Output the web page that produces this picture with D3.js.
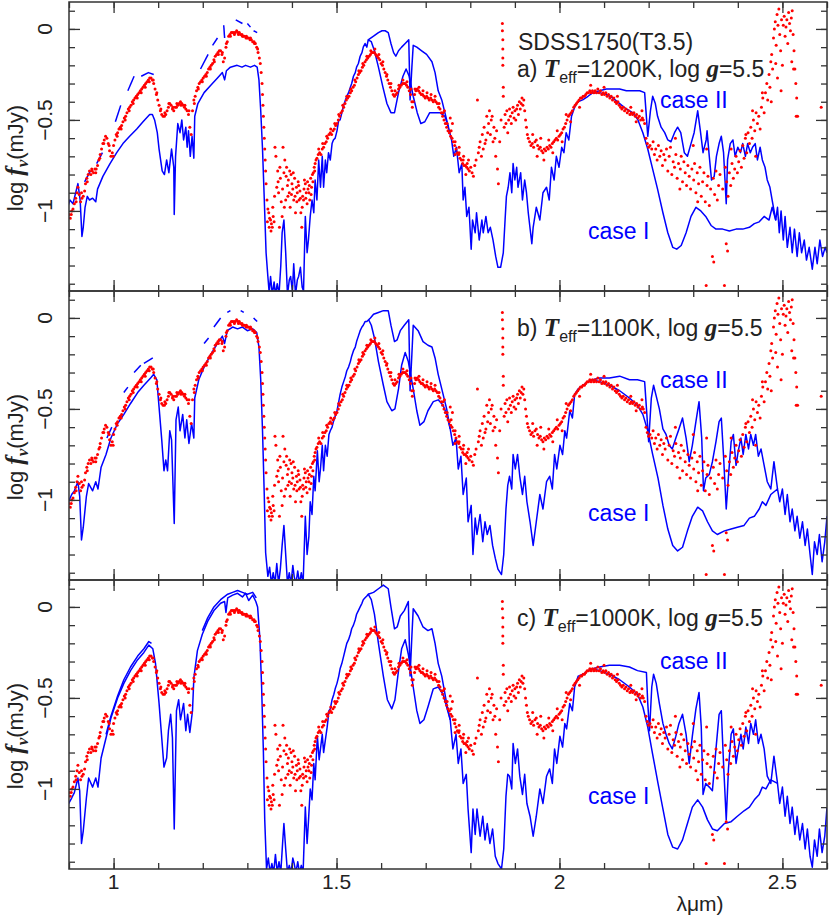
<!DOCTYPE html>
<html>
<head>
<meta charset="utf-8">
<script src="https://cdn.jsdelivr.net/npm/d3@7"></script>
<style>
  body { margin: 0; background: #fff; }
  svg { display: block; font-family: "Liberation Sans", Arial, sans-serif; }
</style>
</head>
<body>
<svg id="chart" width="830" height="920"></svg>
<script>
// ---- tick values ----
const xMajor = [1, 1.5, 2, 2.5];
const xMinor = [0.9, 1.0, 1.1, 1.2, 1.3, 1.4, 1.5, 1.6, 1.7, 1.8, 1.9, 2.0, 2.1, 2.2, 2.3, 2.4, 2.5, 2.6];
const yMajor = [0, -0.5, -1];
const yMinor = [0.1, 0, -0.1, -0.2, -0.3, -0.4, -0.5, -0.6, -0.7, -0.8, -0.9, -1.0, -1.1, -1.2, -1.3, -1.4];

const panelLetters = ["a)", "b)", "c)"];
const panelTeff = ["1200K", "1100K", "1000K"];

// ---- observed spectrum (same in every panel) [lambda um, log f] ----
const obsJ = [[0.897,-1.03],[0.900,-1.02],[0.903,-1.04],[0.906,-1.00],[0.909,-0.99],[0.912,-0.96],[0.915,-0.93],[0.918,-0.90],[0.920,-0.87],[0.923,-0.91],[0.926,-0.95],[0.929,-0.93],[0.932,-0.92],[0.935,-0.89],[0.937,-0.85],[0.940,-0.82],[0.943,-0.80],[0.946,-0.78],[0.949,-0.80],[0.952,-0.78],[0.955,-0.79],[0.958,-0.77],[0.961,-0.77],[0.964,-0.75],[0.967,-0.72],[0.970,-0.69],[0.973,-0.66],[0.976,-0.63],[0.979,-0.61],[0.982,-0.59],[0.985,-0.60],[0.988,-0.63],[0.991,-0.67],[0.994,-0.70],[0.997,-0.68],[1.000,-0.64],[1.003,-0.61],[1.006,-0.58],[1.009,-0.57],[1.012,-0.55],[1.015,-0.54],[1.018,-0.53],[1.021,-0.51],[1.024,-0.49],[1.027,-0.48],[1.030,-0.46],[1.033,-0.44],[1.036,-0.43],[1.039,-0.42],[1.042,-0.40],[1.045,-0.39],[1.048,-0.38],[1.051,-0.37],[1.054,-0.36],[1.057,-0.35],[1.060,-0.34],[1.063,-0.33],[1.066,-0.32],[1.069,-0.31],[1.072,-0.30],[1.075,-0.29],[1.078,-0.28],[1.081,-0.27],[1.084,-0.27],[1.087,-0.28],[1.090,-0.30],[1.093,-0.33],[1.096,-0.36],[1.099,-0.39],[1.102,-0.42],[1.105,-0.45],[1.108,-0.47],[1.111,-0.48],[1.114,-0.48],[1.117,-0.47],[1.120,-0.45],[1.123,-0.43],[1.126,-0.41],[1.129,-0.42],[1.132,-0.44],[1.135,-0.45],[1.138,-0.43],[1.141,-0.43],[1.144,-0.42],[1.147,-0.41],[1.150,-0.40],[1.153,-0.41],[1.156,-0.42],[1.159,-0.43],[1.162,-0.44],[1.165,-0.45],[1.168,-0.47],[1.171,-0.54],[1.174,-0.58],[1.177,-0.45],[1.180,-0.39],[1.183,-0.37],[1.186,-0.34],[1.189,-0.32],[1.192,-0.30],[1.195,-0.29],[1.198,-0.28],[1.201,-0.27],[1.204,-0.26],[1.207,-0.25],[1.210,-0.24],[1.213,-0.22],[1.216,-0.21],[1.219,-0.20],[1.222,-0.19],[1.225,-0.17],[1.228,-0.15],[1.231,-0.14],[1.234,-0.13],[1.237,-0.12],[1.240,-0.12],[1.243,-0.14],[1.246,-0.18],[1.249,-0.16],[1.252,-0.10],[1.255,-0.07],[1.258,-0.04],[1.261,-0.03],[1.264,-0.02],[1.267,-0.02],[1.270,-0.02],[1.273,-0.02],[1.276,-0.01],[1.279,-0.02],[1.282,-0.02],[1.285,-0.03],[1.288,-0.03],[1.291,-0.04],[1.294,-0.04],[1.297,-0.05],[1.300,-0.05],[1.303,-0.05],[1.306,-0.06],[1.309,-0.06],[1.312,-0.07],[1.315,-0.07],[1.318,-0.08],[1.321,-0.10],[1.324,-0.13],[1.327,-0.16],[1.329,-0.19],[1.331,-0.24],[1.333,-0.30],[1.334,-0.36],[1.335,-0.42],[1.336,-0.48],[1.337,-0.54],[1.338,-0.60],[1.339,-0.66],[1.340,-0.72],[1.341,-0.78],[1.342,-0.85]];

// second, slightly offset trace of the dense parts (the band is a few pixels thick)
const obsJb = [[0.905,-1.02],[0.916,-0.95],[0.928,-0.90],[0.941,-0.84],[0.951,-0.77],[0.960,-0.79],[0.969,-0.71],[0.978,-0.63],[0.990,-0.64],[0.999,-0.70],[1.008,-0.59],[1.017,-0.55],[1.026,-0.50],[1.035,-0.45],[1.044,-0.41],[1.053,-0.38],[1.062,-0.35],[1.071,-0.32],[1.080,-0.29],[1.089,-0.28],[1.097,-0.35],[1.106,-0.44],[1.115,-0.46],[1.124,-0.41],[1.133,-0.43],[1.142,-0.41],[1.151,-0.42],[1.160,-0.42],[1.169,-0.45],[1.181,-0.41],[1.190,-0.33],[1.199,-0.29],[1.208,-0.26],[1.217,-0.22],[1.226,-0.18],[1.235,-0.14],[1.244,-0.13],[1.253,-0.08],[1.262,-0.04],[1.271,-0.03],[1.280,-0.03],[1.289,-0.04],[1.298,-0.04],[1.307,-0.05],[1.316,-0.08],[1.323,-0.11]];

const obsGap1 = [[1.344,-0.94],[1.345,-1.06],[1.346,-0.99],[1.348,-1.01],[1.349,-1.09],[1.350,-1.04],[1.352,-1.05],[1.353,-1.11],[1.354,-1.07],[1.356,-1.09],[1.357,-0.98],[1.358,-1.03],[1.360,-1.06],[1.361,-0.92],[1.362,-0.65],[1.364,-0.70],[1.366,-0.87],[1.368,-0.78],[1.369,-0.84],[1.370,-0.90],[1.372,-1.09],[1.373,-0.76],[1.374,-0.82],[1.376,-0.95],[1.378,-1.03],[1.379,-0.88],[1.380,-0.65],[1.382,-0.79],[1.383,-0.98],[1.384,-0.72],[1.386,-0.94],[1.387,-0.81],[1.388,-0.76],[1.390,-0.86],[1.391,-0.92],[1.392,-0.83],[1.394,-0.90],[1.395,-0.78],[1.396,-0.98],[1.398,-0.80],[1.399,-0.91],[1.400,-0.85],[1.402,-0.88],[1.403,-0.79],[1.404,-0.94],[1.406,-0.82],[1.407,-0.92],[1.408,-1.01],[1.410,-0.87],[1.411,-0.95],[1.412,-0.90],[1.414,-0.84],[1.415,-0.86],[1.416,-0.94],[1.418,-0.89],[1.419,-0.93],[1.420,-1.01],[1.422,-1.09],[1.423,-0.98],[1.424,-0.92],[1.426,-0.94],[1.427,-0.88],[1.428,-0.83],[1.430,-0.85],[1.431,-0.93],[1.432,-0.90],[1.434,-0.96],[1.435,-0.84],[1.436,-0.88],[1.438,-0.90],[1.439,-0.86],[1.440,-0.94],[1.442,-0.82],[1.443,-0.91],[1.444,-0.87],[1.446,-0.80],[1.447,-0.84],[1.448,-0.79],[1.450,-0.76],[1.451,-0.78],[1.452,-0.74],[1.454,-0.72]];

const obsH = [[1.456,-0.71],[1.459,-0.69],[1.462,-0.68],[1.465,-0.69],[1.468,-0.66],[1.471,-0.65],[1.474,-0.63],[1.477,-0.62],[1.480,-0.60],[1.483,-0.58],[1.486,-0.57],[1.489,-0.58],[1.492,-0.56],[1.495,-0.55],[1.498,-0.53],[1.501,-0.52],[1.504,-0.50],[1.507,-0.48],[1.510,-0.46],[1.513,-0.45],[1.516,-0.43],[1.519,-0.41],[1.522,-0.39],[1.525,-0.38],[1.528,-0.37],[1.531,-0.35],[1.534,-0.34],[1.537,-0.32],[1.540,-0.31],[1.543,-0.29],[1.546,-0.27],[1.549,-0.25],[1.552,-0.24],[1.555,-0.23],[1.558,-0.21],[1.561,-0.20],[1.564,-0.18],[1.567,-0.17],[1.570,-0.16],[1.573,-0.15],[1.576,-0.14],[1.579,-0.13],[1.582,-0.13],[1.585,-0.13],[1.588,-0.14],[1.591,-0.15],[1.594,-0.16],[1.597,-0.17],[1.600,-0.19],[1.603,-0.20],[1.606,-0.22],[1.609,-0.24],[1.612,-0.26],[1.615,-0.28],[1.618,-0.30],[1.621,-0.32],[1.624,-0.34],[1.627,-0.36],[1.630,-0.37],[1.633,-0.36],[1.636,-0.35],[1.639,-0.33],[1.642,-0.32],[1.645,-0.31],[1.648,-0.30],[1.651,-0.30],[1.654,-0.30],[1.657,-0.31],[1.660,-0.32],[1.663,-0.34],[1.666,-0.36],[1.669,-0.40],[1.670,-0.43],[1.672,-0.40],[1.675,-0.36],[1.678,-0.34],[1.681,-0.33],[1.684,-0.34],[1.687,-0.35],[1.690,-0.36],[1.693,-0.36],[1.696,-0.37],[1.699,-0.38],[1.702,-0.37],[1.705,-0.38],[1.708,-0.39],[1.711,-0.38],[1.714,-0.39],[1.717,-0.40],[1.720,-0.39],[1.723,-0.40],[1.726,-0.41],[1.729,-0.43],[1.732,-0.44],[1.735,-0.46],[1.738,-0.48],[1.741,-0.50],[1.742,-0.45],[1.744,-0.52],[1.747,-0.54],[1.750,-0.56],[1.753,-0.57],[1.755,-0.49],[1.756,-0.59],[1.759,-0.60],[1.760,-0.52],[1.762,-0.62],[1.765,-0.64],[1.766,-0.69],[1.768,-0.66],[1.771,-0.68],[1.774,-0.69],[1.775,-0.65],[1.777,-0.71],[1.780,-0.72],[1.783,-0.74],[1.785,-0.70],[1.786,-0.75],[1.789,-0.75],[1.790,-0.80],[1.792,-0.76],[1.795,-0.77],[1.796,-0.72],[1.798,-0.78],[1.801,-0.76],[1.804,-0.79],[1.807,-0.81]];

const obsHb = [[1.460,-0.66],[1.469,-0.63],[1.478,-0.59],[1.487,-0.55],[1.496,-0.52],[1.505,-0.47],[1.514,-0.42],[1.523,-0.37],[1.532,-0.33],[1.541,-0.28],[1.550,-0.23],[1.559,-0.19],[1.568,-0.15],[1.577,-0.12],[1.586,-0.11],[1.595,-0.14],[1.604,-0.18],[1.613,-0.25],[1.622,-0.30],[1.631,-0.34],[1.640,-0.31],[1.649,-0.28],[1.658,-0.29],[1.667,-0.33],[1.676,-0.33],[1.685,-0.32],[1.694,-0.34],[1.703,-0.35],[1.712,-0.36],[1.721,-0.37],[1.730,-0.41],[1.739,-0.46],[1.748,-0.52],[1.757,-0.56],[1.766,-0.62],[1.775,-0.68],[1.784,-0.72],[1.793,-0.74]];

const obsGap2 = [[1.810,-0.75],[1.813,-0.72],[1.816,-0.39],[1.818,-0.68],[1.820,-0.65],[1.822,-0.62],[1.825,-0.70],[1.827,-0.58],[1.829,-0.66],[1.831,-0.54],[1.833,-0.63],[1.835,-0.61],[1.837,-0.48],[1.839,-0.57],[1.841,-0.52],[1.843,-0.45],[1.845,-0.58],[1.847,-0.50],[1.849,-0.48],[1.851,-0.62],[1.853,-0.54],[1.855,-0.60],[1.857,-0.70],[1.859,-0.56],[1.861,-0.77],[1.863,-0.85],[1.866,-0.62],[1.869,-0.50],[1.872,0.03],[1.872,-0.01],[1.873,-0.06],[1.873,-0.11],[1.873,-0.16],[1.873,-0.20],[1.874,-0.32],[1.874,-0.37],[1.876,-0.54],[1.878,-0.47],[1.880,-0.52],[1.882,-0.45],[1.884,-0.57],[1.886,-0.50],[1.888,-0.44],[1.890,-0.48],[1.892,-0.52],[1.894,-0.46],[1.896,-0.43],[1.898,-0.49],[1.900,-0.45],[1.902,-0.50],[1.904,-0.44],[1.906,-0.42],[1.908,-0.47],[1.910,-0.40],[1.912,-0.44],[1.914,-0.41],[1.916,-0.38],[1.918,-0.42],[1.920,-0.39],[1.922,-0.45],[1.924,-0.50],[1.926,-0.54],[1.928,-0.58]];

const obsK = [[1.930,-0.60],[1.933,-0.62],[1.936,-0.64],[1.939,-0.63],[1.940,-0.58],[1.942,-0.65],[1.945,-0.62],[1.948,-0.61],[1.950,-0.70],[1.951,-0.64],[1.954,-0.66],[1.957,-0.65],[1.958,-0.60],[1.960,-0.67],[1.963,-0.68],[1.965,-0.72],[1.966,-0.66],[1.969,-0.67],[1.972,-0.65],[1.975,-0.66],[1.976,-0.61],[1.978,-0.64],[1.981,-0.65],[1.984,-0.63],[1.985,-0.68],[1.987,-0.62],[1.990,-0.61],[1.993,-0.60],[1.995,-0.56],[1.996,-0.61],[1.999,-0.59],[2.002,-0.58],[2.005,-0.57],[2.006,-0.62],[2.008,-0.55],[2.011,-0.54],[2.014,-0.52],[2.015,-0.47],[2.017,-0.50],[2.020,-0.48],[2.023,-0.47],[2.025,-0.51],[2.026,-0.46],[2.029,-0.45],[2.032,-0.43],[2.035,-0.42],[2.038,-0.41],[2.041,-0.40],[2.044,-0.39],[2.045,-0.43],[2.047,-0.38],[2.050,-0.38],[2.053,-0.37],[2.056,-0.37],[2.059,-0.36],[2.062,-0.35],[2.065,-0.35],[2.068,-0.34],[2.070,-0.31],[2.071,-0.35],[2.074,-0.34],[2.077,-0.35],[2.080,-0.34],[2.083,-0.35],[2.086,-0.33],[2.089,-0.35],[2.092,-0.34],[2.095,-0.36],[2.098,-0.35],[2.100,-0.32],[2.101,-0.36],[2.104,-0.35],[2.107,-0.37],[2.110,-0.36],[2.113,-0.38],[2.116,-0.37],[2.119,-0.39],[2.122,-0.38],[2.125,-0.40],[2.128,-0.41],[2.130,-0.37],[2.131,-0.40],[2.134,-0.42],[2.137,-0.43],[2.140,-0.44],[2.143,-0.43],[2.146,-0.45],[2.149,-0.44],[2.152,-0.46],[2.155,-0.45],[2.158,-0.47],[2.160,-0.43],[2.161,-0.46],[2.164,-0.47],[2.167,-0.46],[2.170,-0.48],[2.172,-0.51],[2.173,-0.47],[2.176,-0.49],[2.179,-0.48],[2.182,-0.50],[2.185,-0.45],[2.186,-0.49],[2.188,-0.50],[2.191,-0.52],[2.194,-0.60],[2.197,-0.63],[2.200,-0.65],[2.203,-0.64]];

const obsKtail = [[2.207,-0.66],[2.210,-0.62],[2.213,-0.69],[2.216,-0.66],[2.219,-0.72],[2.222,-0.64],[2.225,-0.70],[2.228,-0.67],[2.231,-0.75],[2.234,-0.69],[2.237,-0.72],[2.240,-0.66],[2.243,-0.78],[2.246,-0.70],[2.249,-0.65],[2.252,-0.80],[2.255,-0.73],[2.258,-0.76],[2.260,-0.60],[2.261,-0.69],[2.264,-0.82],[2.267,-0.74],[2.270,-0.88],[2.271,-0.77],[2.273,-0.70],[2.276,-0.84],[2.279,-0.73],[2.282,-0.79],[2.285,-0.86],[2.288,-0.75],[2.291,-0.81],[2.294,-0.88],[2.297,-0.77],[2.300,-0.64],[2.301,-0.83],[2.303,-0.74],[2.306,-0.90],[2.309,-0.79],[2.310,-0.95],[2.312,-0.85],[2.315,-0.76],[2.318,-0.92],[2.321,-0.84],[2.324,-0.79],[2.327,-0.95],[2.329,-1.41],[2.330,-0.66],[2.331,-0.86],[2.333,-0.81],[2.336,-0.97],[2.339,-0.88],[2.343,-1.25],[2.345,-0.82],[2.346,-1.28],[2.348,-0.91],[2.351,-0.78],[2.354,-0.94],[2.357,-0.86],[2.360,-0.80],[2.366,-0.88],[2.370,-1.41],[2.372,-0.76],[2.374,-1.18],[2.375,-0.84],[2.377,-1.22],[2.378,-0.92],[2.381,-0.79],[2.384,-0.86],[2.385,-0.66],[2.387,-0.74],[2.390,-0.82],[2.393,-0.77],[2.396,-0.70],[2.399,-0.79],[2.402,-0.73],[2.405,-0.67],[2.408,-0.76],[2.411,-0.64],[2.414,-0.71],[2.417,-0.60],[2.418,-0.58],[2.420,-0.68],[2.423,-0.57],[2.426,-0.63],[2.429,-0.54],[2.432,-0.60],[2.433,-0.45],[2.435,-0.50],[2.438,-0.56],[2.440,-0.70],[2.441,-0.46],[2.444,-0.52]];

const obsTop = [[2.447,-0.48],[2.450,-0.55],[2.453,-0.43],[2.455,-0.35],[2.456,-0.38],[2.459,-0.46],[2.462,-0.35],[2.465,-0.30],[2.467,-0.39],[2.470,-0.25],[2.472,-0.32],[2.474,-0.18],[2.475,-0.40],[2.476,-0.14],[2.478,-0.22],[2.480,-0.05],[2.482,0.00],[2.484,0.04],[2.485,-0.19],[2.486,-0.09],[2.488,0.08],[2.489,-0.27],[2.490,0.02],[2.492,0.11],[2.494,-0.03],[2.496,-0.12],[2.497,-0.34],[2.498,0.05],[2.500,-0.20],[2.502,0.02],[2.504,0.07],[2.506,-0.04],[2.508,0.01],[2.510,0.05],[2.512,-0.08],[2.514,0.09],[2.516,0.03],[2.518,-0.01],[2.520,0.06],[2.521,-0.18],[2.522,0.10],[2.524,-0.03],[2.525,-0.22],[2.526,-0.12],[2.528,-0.22],[2.530,-0.30],[2.531,-0.48],[2.532,-0.38],[2.534,-0.48],[2.587,-0.43]];

// ---- model spectra, panel a (Teff=1200K) ----
const aLeft = [[0.897,-0.98],[0.902,-0.94],[0.909,-0.96],[0.918,-0.87],[0.920,-0.85],[0.925,-0.94],[0.929,-1.14],[0.932,-1.09],[0.936,-0.98],[0.941,-0.92],[0.946,-0.94],[0.953,-0.93],[0.960,-0.95],[0.964,-0.88],[0.976,-0.81],[0.992,-0.74],[1.007,-0.68],[1.021,-0.63],[1.036,-0.59],[1.052,-0.55],[1.066,-0.51],[1.081,-0.47],[1.087,-0.47],[1.092,-0.50],[1.098,-0.57],[1.102,-0.66],[1.109,-0.78],[1.114,-0.80],[1.119,-0.72],[1.124,-0.79],[1.130,-0.66],[1.135,-0.76],[1.136,-1.02],[1.139,-0.70],[1.144,-0.52],[1.149,-0.57],[1.153,-0.50],[1.157,-0.61],[1.162,-0.54],[1.165,-0.65],[1.168,-0.56],[1.172,-0.70],[1.176,-0.59],[1.180,-0.71],[1.182,-0.48],[1.189,-0.41],[1.203,-0.35],[1.218,-0.31],[1.233,-0.27],[1.244,-0.24],[1.249,-0.28],[1.253,-0.23],[1.262,-0.21],[1.277,-0.20],[1.288,-0.21],[1.296,-0.20],[1.307,-0.21],[1.316,-0.20],[1.322,-0.21],[1.326,-0.28],[1.330,-0.45],[1.334,-0.66],[1.338,-0.94],[1.342,-1.23],[1.346,-1.36]];
const aUpper = [
  [[0.935,-0.84],[0.948,-0.78]],
  [[0.962,-0.74],[0.975,-0.68]],
  [[1.004,-0.51],[1.016,-0.42]],
  [[1.032,-0.34],[1.046,-0.26]],
  [[1.062,-0.26],[1.078,-0.24],[1.090,-0.25]],
  [[1.195,-0.22],[1.212,-0.14]],
  [[1.222,-0.09],[1.233,-0.05]],
  [[1.247,0.02],[1.249,-0.05]],
  [[1.274,0.05],[1.289,0.03]],
  [[1.300,0.03],[1.307,0.01]],
  [[1.314,-0.01],[1.322,-0.02]]
];
const aMid = [[1.349,-1.45],[1.352,-1.36],[1.356,-1.46],[1.360,-1.39],[1.363,-1.46],[1.367,-1.40],[1.371,-1.46],[1.375,-1.30],[1.378,-1.12],[1.382,-1.05],[1.386,-1.23],[1.390,-1.46],[1.394,-1.38],[1.397,-1.36],[1.401,-1.44],[1.404,-1.29],[1.408,-1.46],[1.412,-1.38],[1.415,-1.36],[1.419,-1.31],[1.423,-1.42],[1.426,-1.44],[1.430,-1.03],[1.434,-1.23],[1.437,-1.16],[1.441,-1.03],[1.445,-0.94],[1.449,-1.01],[1.452,-0.83],[1.456,-0.94],[1.460,-0.72],[1.464,-0.87],[1.468,-0.70],[1.471,-0.87],[1.475,-0.72],[1.478,-0.79],[1.482,-0.68],[1.486,-0.72],[1.490,-0.63],[1.493,-0.61],[1.497,-0.60],[1.501,-0.56],[1.505,-0.50],[1.508,-0.50],[1.512,-0.46],[1.516,-0.42],[1.520,-0.39],[1.523,-0.37],[1.527,-0.35],[1.531,-0.32],[1.534,-0.30],[1.538,-0.26],[1.542,-0.24],[1.545,-0.21],[1.549,-0.19],[1.553,-0.15],[1.557,-0.13],[1.560,-0.10],[1.564,-0.08],[1.568,-0.10],[1.571,-0.06]];
const aHI = [[1.578,-0.07],[1.585,-0.12],[1.594,-0.21],[1.604,-0.32],[1.613,-0.41],[1.622,-0.46],[1.630,-0.46],[1.639,-0.35],[1.649,-0.26],[1.656,-0.22],[1.663,-0.26],[1.672,-0.37],[1.681,-0.46],[1.689,-0.52],[1.698,-0.51],[1.709,-0.46],[1.721,-0.46],[1.732,-0.46],[1.743,-0.48]];
const aHII = [[1.583,-0.04],[1.594,-0.02],[1.602,-0.01],[1.609,-0.01],[1.616,-0.02],[1.622,-0.08],[1.628,-0.13],[1.633,-0.15],[1.639,-0.12],[1.646,-0.10],[1.654,-0.08],[1.662,-0.06],[1.665,-0.39],[1.669,-0.21],[1.672,-0.09],[1.680,-0.10],[1.691,-0.12],[1.702,-0.14],[1.714,-0.18],[1.721,-0.24],[1.728,-0.34],[1.736,-0.39],[1.743,-0.46]];
const aMid2 = [[1.751,-0.54],[1.758,-0.61],[1.763,-0.70],[1.769,-0.65],[1.775,-0.79],[1.781,-0.74],[1.784,-0.94],[1.788,-0.87],[1.792,-1.03],[1.797,-0.98],[1.802,-1.21],[1.805,-1.05],[1.811,-1.12],[1.814,-1.01],[1.820,-1.16],[1.826,-1.05],[1.829,-1.12],[1.835,-1.03],[1.840,-1.12],[1.845,-1.09],[1.851,-1.16],[1.857,-1.25],[1.862,-1.31],[1.868,-1.31],[1.874,-1.23],[1.878,-1.05],[1.881,-0.92],[1.885,-0.87],[1.889,-0.79],[1.893,-0.90],[1.896,-0.74],[1.900,-0.83],[1.904,-0.76],[1.907,-0.87],[1.913,-0.79],[1.917,-0.94],[1.922,-0.83],[1.926,-0.90],[1.930,-1.01],[1.938,-1.18],[1.941,-1.09],[1.948,-0.98],[1.956,-1.05],[1.963,-0.90],[1.971,-0.87],[1.977,-0.94],[1.982,-0.76],[1.988,-0.83],[1.993,-0.70],[1.999,-0.76],[2.005,-0.65],[2.010,-0.68],[2.015,-0.57],[2.021,-0.61],[2.027,-0.48],[2.034,-0.43],[2.041,-0.40],[2.052,-0.39],[2.064,-0.37],[2.075,-0.35]];
const aKI = [[2.090,-0.35],[2.105,-0.36],[2.120,-0.38],[2.135,-0.41],[2.150,-0.44],[2.164,-0.46],[2.176,-0.50],[2.187,-0.57],[2.198,-0.66],[2.209,-0.77],[2.220,-0.88],[2.232,-1.01],[2.243,-1.12],[2.254,-1.20],[2.263,-1.21],[2.273,-1.19],[2.284,-1.12],[2.295,-1.03],[2.306,-0.98],[2.317,-1.00],[2.328,-1.03],[2.340,-1.08],[2.351,-1.10],[2.366,-1.10],[2.381,-1.11],[2.396,-1.10],[2.411,-1.10],[2.426,-1.09],[2.437,-1.07],[2.448,-1.06],[2.459,-1.03],[2.470,-1.05],[2.477,-0.98]];
const aKII = [[2.090,-0.34],[2.105,-0.33],[2.120,-0.33],[2.135,-0.33],[2.150,-0.34],[2.164,-0.34],[2.180,-0.34],[2.191,-0.35],[2.194,-0.45],[2.198,-0.59],[2.204,-0.45],[2.209,-0.37],[2.215,-0.41],[2.220,-0.48],[2.228,-0.54],[2.236,-0.57],[2.243,-0.61],[2.250,-0.62],[2.258,-0.57],[2.265,-0.54],[2.272,-0.57],[2.280,-0.68],[2.287,-0.70],[2.295,-0.63],[2.302,-0.57],[2.310,-0.45],[2.316,-0.56],[2.322,-0.68],[2.329,-0.61],[2.331,-0.56],[2.336,-0.70],[2.341,-0.83],[2.347,-0.81],[2.352,-0.70],[2.358,-0.63],[2.363,-0.59],[2.368,-0.68],[2.374,-0.96],[2.377,-0.72],[2.383,-0.63],[2.389,-0.61],[2.394,-0.70],[2.400,-0.65],[2.406,-0.68],[2.411,-0.63],[2.417,-0.70],[2.422,-0.63],[2.428,-0.68],[2.433,-0.65],[2.439,-0.63],[2.444,-0.72],[2.450,-0.65],[2.455,-0.72],[2.461,-0.76],[2.466,-0.83],[2.472,-0.87],[2.477,-0.94]];
const aTail = [[2.485,-1.05],[2.489,-0.98],[2.493,-1.12],[2.497,-1.00],[2.502,-1.16],[2.506,-1.03],[2.511,-1.20],[2.517,-1.09],[2.522,-1.23],[2.527,-1.10],[2.533,-1.25],[2.538,-1.12],[2.543,-1.23],[2.549,-1.16],[2.554,-1.27],[2.560,-1.20],[2.567,-1.32],[2.573,-1.20],[2.578,-1.29],[2.584,-1.16],[2.590,-1.25],[2.596,-1.20],[2.600,-1.23]];

// ---- model spectra, panel b (Teff=1100K) ----
const bLeft = [[0.897,-1.02],[0.906,-0.97],[0.912,-0.95],[0.920,-0.90],[0.924,-0.98],[0.928,-1.22],[0.932,-1.15],[0.939,-0.98],[0.944,-0.91],[0.953,-0.95],[0.960,-0.90],[0.965,-0.94],[0.972,-0.82],[0.983,-0.75],[0.994,-0.66],[1.009,-0.58],[1.023,-0.53],[1.038,-0.47],[1.054,-0.41],[1.068,-0.37],[1.083,-0.33],[1.090,-0.31],[1.097,-0.34],[1.102,-0.49],[1.108,-0.67],[1.113,-0.84],[1.117,-0.78],[1.121,-0.84],[1.126,-0.62],[1.130,-0.67],[1.136,-1.13],[1.140,-0.56],[1.145,-0.49],[1.149,-0.62],[1.155,-0.53],[1.160,-0.66],[1.164,-0.56],[1.169,-0.69],[1.175,-0.58],[1.180,-0.66],[1.182,-0.44],[1.191,-0.34],[1.203,-0.27],[1.218,-0.20],[1.233,-0.14],[1.244,-0.10],[1.249,-0.14],[1.255,-0.07],[1.267,-0.05],[1.278,-0.06],[1.289,-0.05],[1.300,-0.07],[1.312,-0.06],[1.321,-0.08],[1.326,-0.16],[1.330,-0.34],[1.334,-0.62],[1.338,-0.98],[1.341,-1.29],[1.346,-1.42]];
const bUpper = [
  [[0.985,-0.66],[0.996,-0.60]],
  [[1.023,-0.41],[1.032,-0.38]],
  [[1.046,-0.30],[1.061,-0.26]],
  [[1.068,-0.25],[1.088,-0.22]],
  [[1.203,-0.14],[1.213,-0.11]],
  [[1.225,-0.05],[1.240,0.00]],
  [[1.255,0.03],[1.262,0.04]],
  [[1.285,0.04],[1.292,0.03]],
  [[1.314,0.00],[1.322,-0.02]]
];
const bMid = [[1.350,-1.37],[1.354,-1.46],[1.358,-1.40],[1.362,-1.46],[1.366,-1.35],[1.370,-1.46],[1.374,-1.38],[1.378,-1.25],[1.382,-1.14],[1.386,-1.30],[1.390,-1.46],[1.394,-1.40],[1.398,-1.46],[1.402,-1.36],[1.405,-1.42],[1.409,-1.46],[1.413,-1.39],[1.417,-1.46],[1.421,-1.40],[1.425,-1.46],[1.430,-1.09],[1.434,-1.30],[1.438,-1.20],[1.441,-1.01],[1.445,-1.08],[1.449,-0.87],[1.452,-0.95],[1.457,-0.73],[1.461,-0.90],[1.464,-0.83],[1.468,-0.70],[1.471,-0.84],[1.475,-0.70],[1.479,-0.76],[1.483,-0.64],[1.486,-0.62],[1.490,-0.60],[1.493,-0.57],[1.497,-0.54],[1.501,-0.51],[1.505,-0.46],[1.508,-0.42],[1.512,-0.38],[1.516,-0.35],[1.520,-0.32],[1.523,-0.29],[1.527,-0.27],[1.531,-0.24],[1.534,-0.21],[1.538,-0.18],[1.542,-0.16],[1.545,-0.13],[1.549,-0.10],[1.553,-0.07],[1.557,-0.05],[1.560,-0.04],[1.564,-0.02],[1.568,-0.02],[1.572,-0.01]];
const bHI = [[1.578,-0.04],[1.585,-0.11],[1.594,-0.24],[1.605,-0.37],[1.613,-0.46],[1.624,-0.51],[1.631,-0.50],[1.639,-0.39],[1.646,-0.26],[1.654,-0.19],[1.661,-0.24],[1.672,-0.39],[1.680,-0.51],[1.687,-0.59],[1.696,-0.57],[1.705,-0.51],[1.717,-0.46],[1.728,-0.45],[1.739,-0.48],[1.747,-0.53]];
const bHII = [[1.576,0.00],[1.583,0.02],[1.594,0.03],[1.605,0.04],[1.616,0.04],[1.622,-0.04],[1.630,-0.13],[1.636,-0.12],[1.643,-0.07],[1.652,-0.04],[1.662,-0.01],[1.665,-0.40],[1.669,-0.20],[1.672,-0.04],[1.683,-0.07],[1.694,-0.13],[1.705,-0.15],[1.714,-0.16],[1.721,-0.22],[1.728,-0.31],[1.736,-0.39],[1.747,-0.50]];
const bMid2 = [[1.755,-0.61],[1.761,-0.70],[1.768,-0.66],[1.773,-0.83],[1.779,-0.76],[1.784,-0.97],[1.791,-0.88],[1.795,-1.12],[1.802,-1.03],[1.806,-1.30],[1.811,-1.10],[1.815,-1.19],[1.822,-1.08],[1.828,-1.23],[1.833,-1.12],[1.838,-1.19],[1.844,-1.14],[1.850,-1.25],[1.856,-1.32],[1.862,-1.38],[1.870,-1.41],[1.875,-1.30],[1.880,-1.05],[1.884,-0.92],[1.888,-0.87],[1.893,-0.94],[1.896,-0.75],[1.901,-0.83],[1.906,-0.75],[1.911,-0.87],[1.917,-0.97],[1.922,-0.87],[1.927,-1.01],[1.934,-1.12],[1.941,-1.25],[1.948,-1.12],[1.956,-0.97],[1.963,-1.05],[1.971,-0.90],[1.978,-0.87],[1.984,-0.94],[1.989,-0.75],[1.994,-0.83],[2.001,-0.70],[2.007,-0.75],[2.012,-0.62],[2.016,-0.66],[2.023,-0.51],[2.029,-0.55],[2.034,-0.42],[2.042,-0.39],[2.053,-0.37],[2.064,-0.35],[2.075,-0.34]];
const bKI = [[2.090,-0.35],[2.112,-0.37],[2.135,-0.40],[2.157,-0.44],[2.175,-0.48],[2.187,-0.53],[2.198,-0.62],[2.209,-0.75],[2.221,-0.88],[2.232,-1.03],[2.243,-1.16],[2.254,-1.25],[2.265,-1.28],[2.276,-1.26],[2.287,-1.17],[2.298,-1.09],[2.310,-1.04],[2.321,-1.06],[2.332,-1.12],[2.343,-1.17],[2.354,-1.19],[2.370,-1.17],[2.385,-1.16],[2.399,-1.15],[2.414,-1.14],[2.426,-1.10],[2.437,-1.09],[2.448,-1.05],[2.455,-1.01],[2.463,-1.03],[2.474,-0.97]];
const bKII = [[2.090,-0.33],[2.112,-0.33],[2.135,-0.32],[2.157,-0.34],[2.175,-0.34],[2.191,-0.35],[2.196,-0.53],[2.200,-0.68],[2.206,-0.44],[2.211,-0.37],[2.217,-0.43],[2.224,-0.50],[2.232,-0.61],[2.239,-0.64],[2.246,-0.70],[2.253,-0.72],[2.261,-0.66],[2.268,-0.61],[2.276,-0.55],[2.284,-0.66],[2.291,-0.79],[2.298,-0.70],[2.306,-0.57],[2.313,-0.46],[2.319,-0.66],[2.323,-0.95],[2.328,-0.88],[2.336,-0.86],[2.343,-0.79],[2.351,-0.68],[2.358,-0.57],[2.363,-0.55],[2.368,-0.76],[2.374,-1.05],[2.379,-0.87],[2.385,-0.68],[2.390,-0.64],[2.396,-0.81],[2.401,-0.73],[2.407,-0.66],[2.412,-0.75],[2.418,-0.64],[2.424,-0.72],[2.429,-0.64],[2.435,-0.70],[2.440,-0.64],[2.446,-0.76],[2.452,-0.72],[2.459,-0.81],[2.466,-0.90],[2.474,-0.94],[2.481,-0.79]];
const bTail = [[2.489,-0.94],[2.494,-1.01],[2.500,-0.94],[2.506,-1.08],[2.511,-0.97],[2.517,-1.12],[2.522,-1.05],[2.528,-1.17],[2.533,-1.09],[2.539,-1.21],[2.545,-1.12],[2.551,-1.25],[2.556,-1.16],[2.562,-1.30],[2.567,-1.41],[2.572,-1.23],[2.578,-1.30],[2.583,-1.19],[2.589,-1.34],[2.595,-1.23],[2.600,-1.09]];

// ---- model spectra, panel c (Teff=1000K) ----
const cLeft = [[0.897,-1.09],[0.906,-1.05],[0.912,-1.02],[0.920,-0.94],[0.924,-1.01],[0.928,-1.30],[0.932,-1.23],[0.939,-1.05],[0.944,-0.94],[0.953,-0.99],[0.960,-0.94],[0.965,-0.99],[0.972,-0.83],[0.983,-0.72],[0.994,-0.61],[1.009,-0.50],[1.023,-0.42],[1.038,-0.35],[1.054,-0.29],[1.068,-0.25],[1.079,-0.21],[1.088,-0.23],[1.094,-0.31],[1.102,-0.53],[1.108,-0.72],[1.113,-0.88],[1.119,-0.83],[1.123,-0.68],[1.128,-0.59],[1.132,-0.72],[1.136,-1.22],[1.141,-0.57],[1.146,-0.51],[1.150,-0.62],[1.157,-0.53],[1.162,-0.68],[1.166,-0.59],[1.171,-0.69],[1.177,-0.57],[1.180,-0.39],[1.188,-0.24],[1.199,-0.15],[1.211,-0.08],[1.225,-0.02],[1.240,0.02],[1.249,0.03],[1.252,-0.03],[1.256,0.05],[1.267,0.065],[1.278,0.075],[1.289,0.055],[1.296,0.075],[1.303,0.035],[1.312,0.065],[1.319,0.03],[1.323,0.00],[1.328,-0.17],[1.332,-0.44],[1.336,-0.80],[1.339,-1.17],[1.343,-1.44]];
const cUpper = [
  [[0.983,-0.70],[0.994,-0.60],[1.009,-0.49],[1.023,-0.40],[1.038,-0.33],[1.054,-0.27],[1.068,-0.23],[1.079,-0.19],[1.085,-0.20]],
  [[1.199,-0.13],[1.211,-0.06],[1.225,0.00],[1.240,0.04],[1.256,0.07],[1.267,0.08],[1.278,0.09],[1.289,0.08],[1.300,0.07],[1.312,0.08],[1.320,0.05]]
];
const cMid = [[1.347,-1.38],[1.351,-1.46],[1.355,-1.41],[1.359,-1.46],[1.363,-1.36],[1.367,-1.46],[1.371,-1.40],[1.375,-1.46],[1.379,-1.30],[1.382,-1.19],[1.386,-1.33],[1.390,-1.46],[1.394,-1.42],[1.398,-1.46],[1.402,-1.38],[1.405,-1.41],[1.409,-1.46],[1.413,-1.40],[1.417,-1.46],[1.421,-1.42],[1.425,-1.46],[1.430,-1.10],[1.434,-1.30],[1.437,-1.18],[1.441,-1.00],[1.445,-1.06],[1.449,-0.86],[1.452,-0.95],[1.457,-0.71],[1.461,-0.84],[1.464,-0.78],[1.468,-0.70],[1.471,-0.80],[1.475,-0.73],[1.479,-0.66],[1.483,-0.57],[1.486,-0.56],[1.490,-0.51],[1.494,-0.48],[1.497,-0.45],[1.501,-0.42],[1.505,-0.38],[1.508,-0.34],[1.512,-0.31],[1.516,-0.27],[1.520,-0.23],[1.523,-0.20],[1.527,-0.18],[1.531,-0.15],[1.534,-0.12],[1.538,-0.10],[1.542,-0.07],[1.545,-0.04],[1.549,-0.02],[1.553,0.00],[1.557,0.02],[1.560,0.04],[1.564,0.05],[1.568,0.06],[1.571,0.07]];
const cHI = [[1.578,0.04],[1.585,-0.04],[1.594,-0.20],[1.605,-0.38],[1.614,-0.51],[1.624,-0.56],[1.631,-0.51],[1.639,-0.35],[1.646,-0.23],[1.654,-0.18],[1.661,-0.26],[1.672,-0.44],[1.680,-0.57],[1.687,-0.64],[1.696,-0.62],[1.705,-0.55],[1.717,-0.45],[1.728,-0.44],[1.739,-0.48],[1.747,-0.55]];
const cHII = [[1.583,0.08],[1.594,0.10],[1.605,0.12],[1.616,0.10],[1.622,0.00],[1.630,-0.12],[1.636,-0.11],[1.643,-0.05],[1.652,-0.02],[1.661,0.03],[1.665,-0.38],[1.669,-0.16],[1.672,-0.01],[1.683,-0.05],[1.694,-0.11],[1.705,-0.13],[1.714,-0.12],[1.721,-0.20],[1.728,-0.31],[1.736,-0.38],[1.747,-0.53]];
const cMid2 = [[1.755,-0.62],[1.761,-0.78],[1.768,-0.70],[1.773,-0.86],[1.779,-0.78],[1.784,-0.97],[1.791,-0.92],[1.795,-1.11],[1.802,-1.35],[1.806,-1.11],[1.811,-1.25],[1.815,-1.11],[1.822,-1.26],[1.828,-1.15],[1.833,-1.28],[1.838,-1.19],[1.844,-1.30],[1.850,-1.22],[1.856,-1.37],[1.862,-1.41],[1.870,-1.44],[1.875,-1.33],[1.880,-1.04],[1.884,-0.92],[1.888,-0.93],[1.893,-1.00],[1.896,-0.75],[1.901,-0.86],[1.906,-0.78],[1.911,-0.93],[1.917,-1.03],[1.922,-0.92],[1.927,-1.08],[1.934,-1.15],[1.941,-1.26],[1.948,-1.15],[1.956,-1.00],[1.963,-1.08],[1.971,-0.93],[1.978,-0.89],[1.984,-0.97],[1.989,-0.78],[1.994,-0.86],[2.001,-0.71],[2.007,-0.77],[2.012,-0.64],[2.016,-0.67],[2.023,-0.53],[2.029,-0.57],[2.034,-0.44],[2.042,-0.38],[2.053,-0.37],[2.064,-0.35],[2.075,-0.34]];
const cKI = [[2.090,-0.35],[2.112,-0.37],[2.135,-0.40],[2.157,-0.44],[2.175,-0.48],[2.187,-0.55],[2.198,-0.66],[2.209,-0.81],[2.221,-0.97],[2.232,-1.11],[2.243,-1.25],[2.254,-1.32],[2.265,-1.33],[2.276,-1.28],[2.287,-1.19],[2.298,-1.10],[2.310,-1.06],[2.321,-1.10],[2.332,-1.17],[2.343,-1.22],[2.354,-1.23],[2.370,-1.19],[2.385,-1.18],[2.399,-1.15],[2.414,-1.12],[2.426,-1.10],[2.437,-1.06],[2.448,-1.03],[2.455,-0.99],[2.463,-1.00],[2.474,-0.95]];
const cKII = [[2.090,-0.33],[2.112,-0.32],[2.135,-0.32],[2.157,-0.33],[2.175,-0.35],[2.195,-0.36],[2.198,-0.53],[2.202,-0.68],[2.207,-0.44],[2.211,-0.37],[2.217,-0.42],[2.224,-0.53],[2.232,-0.64],[2.239,-0.70],[2.246,-0.75],[2.253,-0.78],[2.261,-0.71],[2.268,-0.64],[2.276,-0.59],[2.284,-0.70],[2.291,-0.86],[2.298,-0.71],[2.306,-0.56],[2.313,-0.47],[2.318,-0.66],[2.322,-1.03],[2.328,-0.97],[2.336,-0.99],[2.343,-1.01],[2.351,-0.78],[2.358,-0.59],[2.363,-0.57],[2.368,-0.86],[2.374,-1.17],[2.379,-0.89],[2.385,-0.70],[2.390,-0.67],[2.396,-0.86],[2.401,-0.78],[2.407,-0.70],[2.412,-0.78],[2.418,-0.66],[2.424,-0.75],[2.429,-0.64],[2.435,-0.70],[2.440,-0.62],[2.446,-0.75],[2.452,-0.70],[2.459,-0.78],[2.466,-0.93],[2.474,-0.97],[2.481,-0.82]];
const cTail = [[2.489,-0.97],[2.494,-1.08],[2.500,-0.99],[2.506,-1.15],[2.511,-1.04],[2.517,-1.19],[2.522,-1.10],[2.528,-1.25],[2.533,-1.15],[2.539,-1.28],[2.545,-1.19],[2.551,-1.33],[2.556,-1.22],[2.562,-1.37],[2.567,-1.43],[2.572,-1.28],[2.578,-1.37],[2.583,-1.22],[2.589,-1.35],[2.595,-1.26],[2.600,-1.10]];

// ---- layout ----
const left = 69, right = 827, panelH = 289;
const panelTops = [2, 291, 580];
const blue = "#0000ff", red = "#ff0000", ink = "#333";

const panels = [
  { left: aLeft, upper: aUpper, mid: aMid, hI: aHI, hII: aHII, mid2: aMid2, kI: aKI, kII: aKII, tail: aTail, labY: 75, c2Y: 106, c1Y: 237 },
  { left: bLeft, upper: bUpper, mid: bMid, hI: bHI, hII: bHII, mid2: bMid2, kI: bKI, kII: bKII, tail: bTail, labY: 45, c2Y: 97,  c1Y: 230 },
  { left: cLeft, upper: cUpper, mid: cMid, hI: cHI, hII: cHII, mid2: cMid2, kI: cKI, kII: cKII, tail: cTail, labY: 46, c2Y: 89,  c1Y: 224 }
];

const observed = [].concat(obsJ, obsJb, obsGap1, obsH, obsHb, obsGap2, obsK, obsKtail, obsTop);

const svg = d3.select("#chart");
const x = d3.scaleLinear().domain([0.9, 2.6]).range([left, right]);
const fmt = d3.format("");
const serifBI = sel => sel.attr("font-family", "Liberation Serif, serif")
  .attr("font-style", "italic").attr("font-weight", "bold");

panels.forEach((p, i) => {
  const top = panelTops[i], bottom = top + panelH;
  const y = d3.scaleLinear().domain([-1.44, 0.148]).range([bottom, top]);
  const line = d3.line().x(d => x(d[0])).y(d => y(d[1]));

  svg.append("clipPath").attr("id", "clip" + i)
    .append("rect").attr("x", left).attr("y", top).attr("width", right - left).attr("height", panelH);

  const plot = svg.append("g").attr("clip-path", `url(#clip${i})`);
  const drawLine = pts => plot.append("path").datum(pts)
    .attr("d", line).attr("fill", "none").attr("stroke", blue)
    .attr("stroke-width", 1.5).attr("stroke-linejoin", "round");

  // case I (full range; shared parts included)
  drawLine([].concat(p.left, p.mid, p.hI, p.mid2, p.kI, p.tail));
  // case II where it departs from case I
  drawLine([p.mid[p.mid.length - 1]].concat(p.hII, [p.mid2[0]]));
  drawLine([p.mid2[p.mid2.length - 1]].concat(p.kII, [p.tail[0]]));
  // upper model branch below 1.33 um
  p.upper.forEach(drawLine);

  // observed spectrum dots
  plot.append("g").selectAll("circle").data(observed).join("circle")
    .attr("cx", d => x(d[0])).attr("cy", d => y(d[1]))
    .attr("r", 1.5).attr("fill", red);

  // ticks (all inward)
  const axes = svg.append("g").attr("color", ink);
  const addAxis = (gen, tr, vals, size) => {
    const g = axes.append("g").attr("transform", tr)
      .call(gen.tickValues(vals).tickSize(-size).tickFormat(""));
    g.select(".domain").remove();
    g.selectAll("line").attr("stroke-width", 1.3);
  };
  addAxis(d3.axisBottom(x), `translate(0,${bottom})`, xMinor, 6);
  addAxis(d3.axisBottom(x), `translate(0,${bottom})`, xMajor, 11);
  addAxis(d3.axisTop(x), `translate(0,${top})`, xMinor, 6);
  addAxis(d3.axisTop(x), `translate(0,${top})`, xMajor, 11);
  addAxis(d3.axisLeft(y), `translate(${left},0)`, yMinor, 6);
  addAxis(d3.axisLeft(y), `translate(${left},0)`, yMajor, 11);
  addAxis(d3.axisRight(y), `translate(${right},0)`, yMinor, 6);
  addAxis(d3.axisRight(y), `translate(${right},0)`, yMajor, 11);

  svg.append("rect").attr("x", left).attr("y", top)
    .attr("width", right - left).attr("height", panelH)
    .attr("fill", "none").attr("stroke", ink).attr("stroke-width", 1.5);

  // y tick labels, rotated
  yMajor.forEach(v => {
    svg.append("text").attr("x", 52).attr("y", y(v))
      .attr("transform", `rotate(-90,52,${y(v)})`)
      .attr("text-anchor", "middle").attr("font-size", 21).attr("fill", "#222")
      .text(fmt(v));
  });

  // y title
  const ty = top + 156;
  const yt = svg.append("text").attr("x", 23).attr("y", ty)
    .attr("transform", `rotate(-90,23,${ty})`)
    .attr("text-anchor", "middle").attr("font-size", 22).attr("fill", "#222");
  yt.append("tspan").text("log ");
  yt.append("tspan").call(serifBI).attr("font-size", 25).text("f");
  yt.append("tspan").call(serifBI).attr("font-size", 17).attr("dy", 5).text("ν");
  yt.append("tspan").attr("dy", -5).text("(mJy)");

  // annotations
  if (i === 0) {
    svg.append("text").attr("x", 518).attr("y", top + 48)
      .attr("font-size", 23).attr("fill", "#222").text("SDSS1750(T3.5)");
  }
  const lab = svg.append("text").attr("x", 517).attr("y", top + p.labY)
    .attr("font-size", 23).attr("fill", "#222");
  lab.append("tspan").text(panelLetters[i] + " ");
  lab.append("tspan").call(serifBI).attr("font-size", 25).text("T");
  lab.append("tspan").attr("font-size", 16).attr("dy", 6).text("eff");
  lab.append("tspan").attr("dy", -6).text("=" + panelTeff[i] + ", log ");
  lab.append("tspan").call(serifBI).attr("font-size", 25).text("g");
  lab.append("tspan").text("=5.5");

  svg.append("text").attr("x", 660).attr("y", top + p.c2Y)
    .attr("font-size", 23).attr("fill", blue).text("case II");
  svg.append("text").attr("x", 588).attr("y", top + p.c1Y)
    .attr("font-size", 23).attr("fill", blue).text("case I");

  // x tick labels only on the bottom panel
  if (i === 2) {
    xMajor.forEach(v => {
      svg.append("text").attr("x", x(v)).attr("y", bottom + 20)
        .attr("text-anchor", "middle").attr("font-size", 21).attr("fill", "#222")
        .text(fmt(v));
    });
    svg.append("text").attr("x", 700).attr("y", bottom + 42)
      .attr("text-anchor", "middle").attr("font-size", 21).attr("fill", "#222")
      .text("λμm)");
  }
});
</script>
</body>
</html>
